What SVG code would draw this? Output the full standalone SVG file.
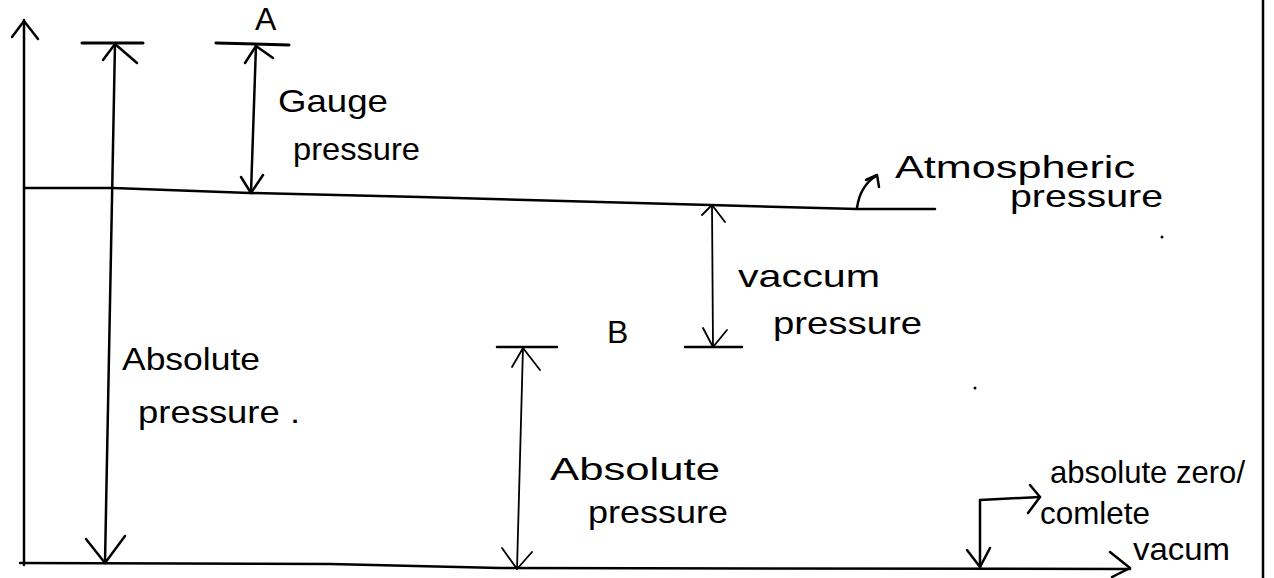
<svg xmlns="http://www.w3.org/2000/svg" width="1274" height="578" viewBox="0 0 1274 578">
<style>
.ln{fill:none;stroke:#000;stroke-width:2.5;stroke-linecap:round;stroke-linejoin:round}
.thin{fill:none;stroke:#000;stroke-width:1.8;stroke-linecap:round;stroke-linejoin:round}
.cap{fill:none;stroke:#000;stroke-width:3;stroke-linecap:round}
.t{font-family:"Liberation Sans","DejaVu Sans",sans-serif;fill:#000;font-size:32px}
</style>
<rect width="1274" height="578" fill="#fff"/>
<g id="frame">
<line x1="1263" y1="0" x2="1263" y2="578" class="ln"/>
</g>
<g id="baselines">
<path class="ln" d="M24,188 L113,188 L250,193 L420,197 L600,202 L710,205 L857,209 L935,209"/>
<path class="ln" d="M20,563 L330,564 L500,568 L1130,569"/>
<path class="ln" d="M1110,552 L1130,568 L1112,577"/>
</g>
<g id="connectors">
<!-- left axis -->
<path class="ln" d="M24,20 L24,565"/>
<path class="ln" d="M12,37 L24,21 L38,39"/>
<!-- absolute pressure 1 -->
<line class="cap" x1="82" y1="43" x2="143" y2="43"/>
<path class="ln" d="M115,43 L105,563"/>
<path class="ln" d="M103,60 L115,44 L137,63"/>
<path class="ln" d="M86,539 L105,563 L125,536"/>
<!-- gauge -->
<line class="cap" x1="216" y1="43" x2="289" y2="45"/>
<path class="ln" d="M256,45 L251,193"/>
<path class="ln" d="M245,63 L256,46 L273,58"/>
<path class="ln" d="M241,177 L251,193 L263,175"/>
<!-- vacuum -->
<line class="ln" x1="685" y1="347" x2="742" y2="347"/>
<path class="thin" d="M712,205 L713,347"/>
<path class="thin" d="M702,215 L712,205 L725,222"/>
<path class="thin" d="M703,328 L713,347 L727,330"/>
<!-- absolute pressure 2 -->
<line class="ln" x1="497" y1="347" x2="557" y2="347"/>
<path class="thin" d="M523,347 L517,569"/>
<path class="thin" d="M512,367 L523,348 L540,370"/>
<path class="thin" d="M502,548 L517,569 L532,552"/>
<!-- atmospheric pointer -->
<path class="ln" d="M857,208 Q860,186 876,176"/>
<path class="ln" d="M866,180 L877,175 L879,187"/>
<!-- absolute zero elbow -->
<path class="ln" d="M980,567 L980,500 L1040,497"/>
<path class="ln" d="M967,550 L980,567 L990,548"/>
<path class="ln" d="M1030,485 L1040,497 L1028,513"/>
</g>
<g id="label-A"><text class="t" x="255" y="30" font-size="22">A</text></g>
<g id="label-gauge">
<text class="t" x="278" y="112" font-size="34" textLength="110" lengthAdjust="spacingAndGlyphs">Gauge</text>
<text class="t" x="293" y="160" font-size="30" textLength="127" lengthAdjust="spacingAndGlyphs">pressure</text>
</g>
<g id="label-atmospheric">
<text class="t" x="895" y="178" font-size="34" textLength="240" lengthAdjust="spacingAndGlyphs">Atmospheric</text>
<text class="t" x="1010" y="207" font-size="32" textLength="153" lengthAdjust="spacingAndGlyphs">pressure</text>
</g>
<g id="label-vacuum">
<text class="t" x="738" y="287" font-size="34" textLength="142" lengthAdjust="spacingAndGlyphs">vaccum</text>
<text class="t" x="773" y="334" font-size="32" textLength="149" lengthAdjust="spacingAndGlyphs">pressure</text>
</g>
<g id="label-B"><text class="t" x="607" y="343" font-size="30">B</text></g>
<g id="label-absolute-1">
<text class="t" x="122" y="370" font-size="32" textLength="138" lengthAdjust="spacingAndGlyphs">Absolute</text>
<text class="t" x="138" y="423" font-size="32" textLength="162" lengthAdjust="spacingAndGlyphs">pressure .</text>
</g>
<g id="label-absolute-2">
<text class="t" x="550" y="480" font-size="34" textLength="170" lengthAdjust="spacingAndGlyphs">Absolute</text>
<text class="t" x="588" y="523" font-size="32" textLength="140" lengthAdjust="spacingAndGlyphs">pressure</text>
</g>
<g id="label-absolute-zero">
<text class="t" x="1050" y="483" font-size="30" textLength="195" lengthAdjust="spacingAndGlyphs">absolute zero/</text>
<text class="t" x="1040" y="524" font-size="30" textLength="110" lengthAdjust="spacingAndGlyphs">comlete</text>
<text class="t" x="1133" y="560" font-size="30" textLength="97" lengthAdjust="spacingAndGlyphs">vacum</text>
</g>
<g id="marks">
<circle cx="975" cy="388" r="1.5" fill="#000"/>
<circle cx="1162" cy="237" r="1.5" fill="#000"/>
</g>
</svg>
